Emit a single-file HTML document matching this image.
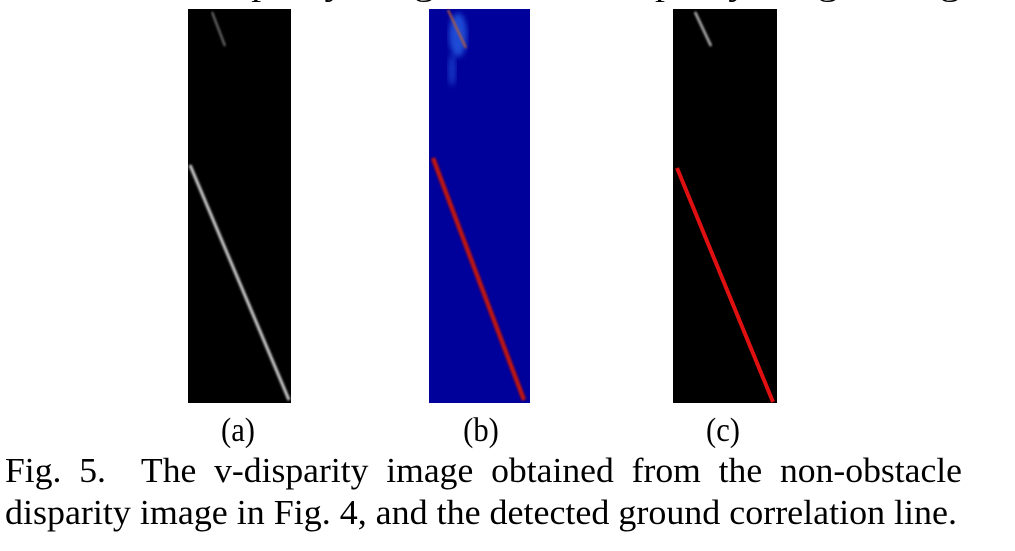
<!DOCTYPE html>
<html><head><meta charset="utf-8"><style>
html,body{margin:0;padding:0;background:#fff;width:1015px;height:551px;overflow:hidden}
text{font-family:"Liberation Serif",serif;fill:#000;white-space:pre}
</style></head><body>
<svg width="1015" height="551" viewBox="0 0 1015 551">
<defs>
<filter id="blur1"><feGaussianBlur stdDeviation="1"/></filter>
<filter id="blur3"><feGaussianBlur stdDeviation="3"/></filter>
</defs>
<text x="5" y="-5" font-size="34" textLength="1005" lengthAdjust="spacingAndGlyphs">the obstacle disparity image from the disparity image in Fig. 3.</text>
<g>
<rect x="188" y="9" width="103" height="394" fill="#000"/>
<line x1="212" y1="12" x2="225" y2="46" stroke="#777" stroke-width="2" filter="url(#blur1)"/>
<line x1="190" y1="165" x2="289" y2="400" stroke="#d0d0d0" stroke-width="3" filter="url(#blur1)"/>
</g>
<g>
<rect x="429" y="9" width="101" height="394" fill="#00009a"/>
<ellipse cx="458" cy="35" rx="9" ry="22" fill="#2a6cf0" opacity="0.7" filter="url(#blur3)"/>
<ellipse cx="452" cy="70" rx="4" ry="16" fill="#2a6cf0" opacity="0.5" filter="url(#blur3)"/>
<line x1="448" y1="10" x2="466" y2="48" stroke="#c06030" stroke-width="2" filter="url(#blur1)"/>
<line x1="433" y1="158" x2="524" y2="400" stroke="#c01808" stroke-width="4.5" filter="url(#blur1)"/>
</g>
<g>
<rect x="673" y="9" width="104" height="394" fill="#000"/>
<line x1="695" y1="12" x2="711" y2="46" stroke="#bbb" stroke-width="2.5" filter="url(#blur1)"/>
<line x1="677" y1="168" x2="773" y2="402" stroke="#e01010" stroke-width="4"/>
</g>
<text x="238" y="441" font-size="34" text-anchor="middle" transform="translate(238 0) scale(0.9 1) translate(-238 0)">(a)</text>
<text x="481" y="441" font-size="34" text-anchor="middle" transform="translate(481 0) scale(0.9 1) translate(-481 0)">(b)</text>
<text x="723" y="441" font-size="34" text-anchor="middle" transform="translate(723 0) scale(0.9 1) translate(-723 0)">(c)</text>
<text x="5" y="482" font-size="35" textLength="957" lengthAdjust="spacingAndGlyphs">Fig.  5.    The  v-disparity  image  obtained  from  the  non-obstacle</text>
<text x="5" y="524" font-size="35" textLength="952" lengthAdjust="spacingAndGlyphs">disparity image in Fig. 4, and the detected ground correlation line.</text>
</svg>
</body></html>
